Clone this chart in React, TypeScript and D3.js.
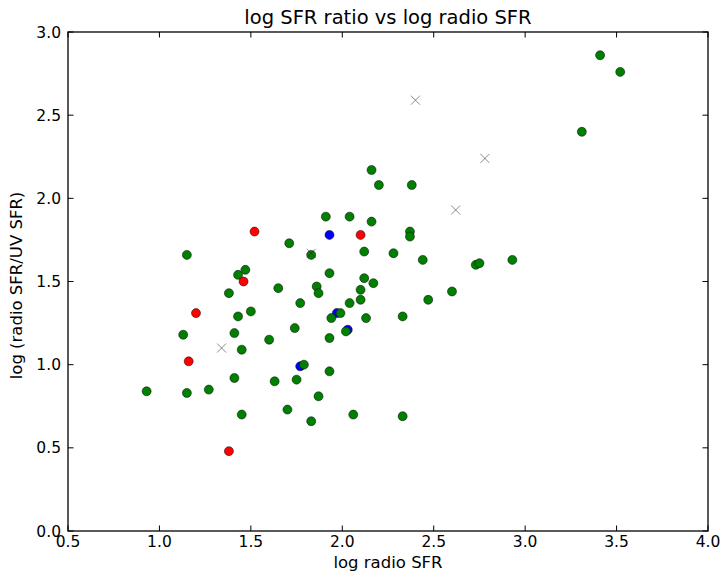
import React from "react";
import * as d3 from "d3";

const greenX = [0.93,1.13,1.15,1.15,1.27,1.38,1.41,1.41,1.43,1.43,1.45,1.45,1.47,1.50,1.60,1.63,1.65,1.70,1.71,1.74,1.75,1.77,1.79,1.83,1.83,1.86,1.87,1.87,1.91,1.93,1.94,1.93,1.93,1.99,2.02,2.04,2.04,2.06,2.10,2.10,2.12,2.12,2.13,2.16,2.16,2.17,2.20,2.28,2.33,2.33,2.37,2.37,2.38,2.44,2.47,2.60,2.73,2.75,2.93,3.31,3.41,3.52];
const greenY = [0.84,1.18,1.66,0.83,0.85,1.43,0.92,1.19,1.29,1.54,0.70,1.09,1.57,1.32,1.15,0.90,1.46,0.73,1.73,1.22,0.91,1.37,1.00,0.66,1.66,1.47,1.43,0.81,1.89,1.55,1.28,1.16,0.96,1.31,1.20,1.37,1.89,0.70,1.45,1.39,1.68,1.52,1.28,2.17,1.86,1.49,2.08,1.67,1.29,0.69,1.80,1.77,2.08,1.63,1.39,1.44,1.60,1.61,1.63,2.40,2.86,2.76];
const blueX = [1.77,1.93,1.97,2.03];
const blueY = [0.99,1.78,1.31,1.21];
const redX = [1.16,1.20,1.38,1.46,1.52,2.10];
const redY = [1.02,1.31,0.48,1.50,1.80,1.78];
const crossX = [1.34,1.83,2.40,2.62,2.78];
const crossY = [1.10,1.67,2.59,1.93,2.24];

const xTicks = [0.5,1.0,1.5,2.0,2.5,3.0,3.5,4.0];
const yTicks = [0.0,0.5,1.0,1.5,2.0,2.5,3.0];

const W = 723, H = 574;
const M = { left: 68, right: 708, top: 32, bottom: 531 };
const FONT = "DejaVu Sans, sans-serif";

export default function App() {
  const x = d3.scaleLinear().domain([0.5, 4.0]).range([M.left, M.right]);
  const y = d3.scaleLinear().domain([0, 3.0]).range([M.bottom, M.top]);
  const r = 4.5;
  const tl = 5.5;
  const dot = (xs: number[], ys: number[], fill: string, key: string) =>
    xs.map((v, i) => (
      <circle key={key + i} cx={x(v)} cy={y(ys[i])} r={r} fill={fill} stroke="#000" strokeWidth={0.5} />
    ));
  const cs = 4.5;
  return (
    <svg width={W} height={H} style={{ position: "absolute", left: 0, top: 0, background: "#fff" }}>
      <rect x={0} y={0} width={W} height={H} fill="#fff" />
      <g>
        {dot(blueX, blueY, "#0000ff", "b")}
        {dot(greenX, greenY, "#008000", "g")}
        {dot(redX, redY, "#ff0000", "r")}
        {crossX.map((v, i) => {
          const cx = x(v), cy = y(crossY[i]);
          return (
            <path key={"c" + i} d={`M${cx - cs},${cy - cs}L${cx + cs},${cy + cs}M${cx - cs},${cy + cs}L${cx + cs},${cy - cs}`}
              stroke="#222" strokeWidth={0.7} strokeOpacity={0.75} fill="none" />
          );
        })}
      </g>
      {xTicks.map((t) => (
        <g key={"xt" + t}>
          <line x1={x(t)} x2={x(t)} y1={M.bottom} y2={M.bottom - tl} stroke="#000" strokeWidth={1} />
          <line x1={x(t)} x2={x(t)} y1={M.top} y2={M.top + tl} stroke="#000" strokeWidth={1} />
          <text x={x(t)} y={M.bottom + 16} textAnchor="middle" fontFamily={FONT} fontSize={15.5} fill="#000">{t.toFixed(1)}</text>
        </g>
      ))}
      {yTicks.map((t) => (
        <g key={"yt" + t}>
          <line x1={M.left} x2={M.left + tl} y1={y(t)} y2={y(t)} stroke="#000" strokeWidth={1} />
          <line x1={M.right} x2={M.right - tl} y1={y(t)} y2={y(t)} stroke="#000" strokeWidth={1} />
          <text x={M.left - 7} y={y(t)} dy="0.36em" textAnchor="end" fontFamily={FONT} fontSize={15.5} fill="#000">{t.toFixed(1)}</text>
        </g>
      ))}
      <rect x={M.left} y={M.top} width={M.right - M.left} height={M.bottom - M.top} fill="none" stroke="#000" strokeWidth={1.3} />
      <text x={(M.left + M.right) / 2} y={24} textAnchor="middle" fontFamily={FONT} fontSize={19.5} fill="#000">log SFR ratio vs log radio SFR</text>
      <text x={(M.left + M.right) / 2} y={568} textAnchor="middle" fontFamily={FONT} fontSize={16.5} fill="#000">log radio SFR</text>
      <text transform={`translate(22,${(M.top + M.bottom) / 2 + 4}) rotate(-90)`} textAnchor="middle" fontFamily={FONT} fontSize={16.5} fill="#000">log (radio SFR/UV SFR)</text>
    </svg>
  );
}
